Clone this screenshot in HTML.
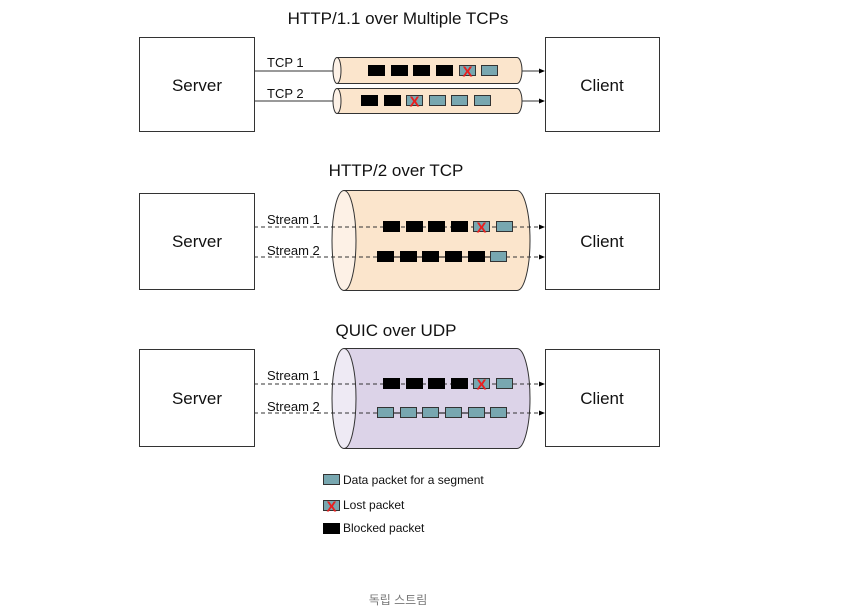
<!DOCTYPE html>
<html><head><meta charset="utf-8"><style>body{margin:0;background:#fff}svg{display:block}</style></head><body>
<svg width="854" height="611" xmlns="http://www.w3.org/2000/svg" font-family="Liberation Sans, sans-serif">
<defs>
<marker id="a" markerWidth="6" markerHeight="6" refX="5" refY="3" orient="auto"><path d="M0,0.5 L6,3 L0,5.5z" fill="#000"/></marker>
<g id="bp"><rect width="17" height="11" fill="#000"/></g>
<g id="tp"><rect x="0.5" y="0.5" width="16" height="10" fill="#78a7b0" stroke="#333"/></g>
<g id="lp"><rect x="0.5" y="0.5" width="16" height="10" fill="#78a7b0" stroke="#333"/><text x="8.5" y="11.5" font-size="15" font-weight="bold" fill="#e82020" text-anchor="middle">X</text></g>
</defs>
<g font-size="17" text-anchor="middle" fill="#111">
<text x="398" y="24">HTTP/1.1 over Multiple TCPs</text>
<text x="396" y="176">HTTP/2 over TCP</text>
<text x="396" y="336">QUIC over UDP</text>
</g>
<g fill="#fff" stroke="#333" stroke-width="1">
<rect x="139.5" y="37.5" width="115" height="94"/><rect x="545.5" y="37.5" width="114" height="94"/>
<rect x="139.5" y="193.5" width="115" height="96"/><rect x="545.5" y="193.5" width="114" height="96"/>
<rect x="139.5" y="349.5" width="115" height="97"/><rect x="545.5" y="349.5" width="114" height="97"/>
</g>
<g font-size="17" text-anchor="middle" fill="#111">
<text x="197" y="91">Server</text><text x="602" y="91">Client</text>
<text x="197" y="247">Server</text><text x="602" y="247">Client</text>
<text x="197" y="404">Server</text><text x="602" y="404">Client</text>
</g>
<g stroke="#333" stroke-width="1">
<path d="M337,57.5 H517 A5,13 0 0 1 517,83.5 H337 Z" fill="#fbe5cc"/>
<ellipse cx="337" cy="70.5" rx="4" ry="13" fill="#fdf1e6"/>
<path d="M337,88.5 H517 A5,12.5 0 0 1 517,113.5 H337 Z" fill="#fbe5cc"/>
<ellipse cx="337" cy="101" rx="4" ry="12.5" fill="#fdf1e6"/>
<line x1="254" y1="71" x2="333" y2="71"/><line x1="254" y1="101" x2="333" y2="101"/>
<line x1="522" y1="71" x2="544" y2="71" marker-end="url(#a)"/><line x1="522" y1="101" x2="544" y2="101" marker-end="url(#a)"/>
</g>
<g font-size="13" fill="#111"><text x="267" y="67">TCP 1</text><text x="267" y="98">TCP 2</text></g>
<use href="#bp" x="368" y="65"/><use href="#bp" x="391" y="65"/><use href="#bp" x="413" y="65"/><use href="#bp" x="436" y="65"/><use href="#lp" x="459" y="65"/><use href="#tp" x="481" y="65"/>
<use href="#bp" x="361" y="95"/><use href="#bp" x="384" y="95"/><use href="#lp" x="406" y="95"/><use href="#tp" x="429" y="95"/><use href="#tp" x="451" y="95"/><use href="#tp" x="474" y="95"/>
<g stroke="#333" stroke-width="1">
<path d="M344,190.5 H517 A13,50 0 0 1 517,290.5 H344 Z" fill="#fbe5cc"/>
<ellipse cx="344" cy="240.5" rx="12" ry="50" fill="#fdf1e6"/>
<path d="M344,348.5 H517 A13,50 0 0 1 517,448.5 H344 Z" fill="#dcd3e8"/>
<ellipse cx="344" cy="398.5" rx="12" ry="50" fill="#eeeaf4"/>
<g stroke-dasharray="4,3">
<line x1="254" y1="227" x2="544" y2="227" marker-end="url(#a)"/><line x1="254" y1="257" x2="544" y2="257" marker-end="url(#a)"/>
<line x1="254" y1="384" x2="544" y2="384" marker-end="url(#a)"/><line x1="254" y1="413" x2="544" y2="413" marker-end="url(#a)"/>
</g>
<line x1="377" y1="257" x2="507" y2="257" stroke="#000"/>
<line x1="377" y1="413" x2="507" y2="413" stroke="#000"/>
</g>
<g font-size="13" fill="#111"><text x="267" y="224">Stream 1</text><text x="267" y="255">Stream 2</text><text x="267" y="380">Stream 1</text><text x="267" y="411">Stream 2</text></g>
<use href="#bp" x="383" y="221"/><use href="#bp" x="406" y="221"/><use href="#bp" x="428" y="221"/><use href="#bp" x="451" y="221"/><use href="#lp" x="473" y="221"/><use href="#tp" x="496" y="221"/>
<use href="#bp" x="377" y="251"/><use href="#bp" x="400" y="251"/><use href="#bp" x="422" y="251"/><use href="#bp" x="445" y="251"/><use href="#bp" x="468" y="251"/><use href="#tp" x="490" y="251"/>
<use href="#bp" x="383" y="378"/><use href="#bp" x="406" y="378"/><use href="#bp" x="428" y="378"/><use href="#bp" x="451" y="378"/><use href="#lp" x="473" y="378"/><use href="#tp" x="496" y="378"/>
<use href="#tp" x="377" y="407"/><use href="#tp" x="400" y="407"/><use href="#tp" x="422" y="407"/><use href="#tp" x="445" y="407"/><use href="#tp" x="468" y="407"/><use href="#tp" x="490" y="407"/>
<use href="#tp" x="323" y="474"/><use href="#lp" x="323" y="500"/><use href="#bp" x="323" y="523"/>
<g font-size="12" fill="#111"><text x="343" y="484">Data packet for a segment</text><text x="343" y="509">Lost packet</text><text x="343" y="532">Blocked packet</text></g>
<text x="398" y="604" font-size="12" fill="#777" text-anchor="middle" font-family="Liberation Sans, Noto Sans CJK KR, sans-serif">독립 스트림</text>
</svg>
</body></html>
